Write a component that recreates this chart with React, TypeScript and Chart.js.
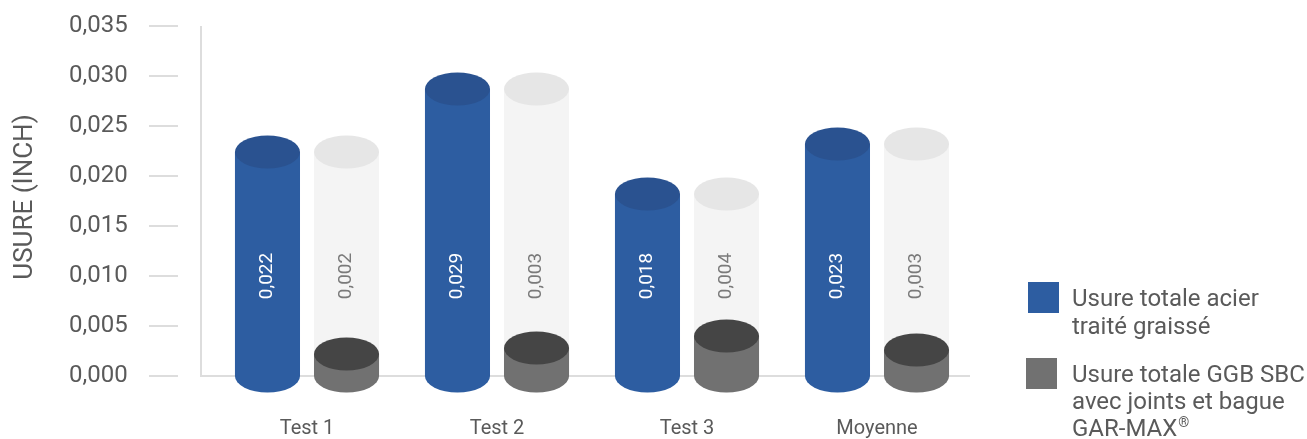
import React, { useEffect, useRef } from 'react';
import { Chart, registerables } from 'chart.js';

Chart.register(...registerables);

const categories = ['Test 1', 'Test 2', 'Test 3', 'Moyenne'];
const acierValues = [0.0224, 0.0287, 0.0182, 0.0232];
const ggbValues = [0.0022, 0.0028, 0.004, 0.0026];
const yMin = 0;
const yMax = 0.035;
const yStep = 0.005;
const labelAnchorValue = 0.01;
const yTitle = 'USURE (INCH)';
const legendAcier = ['Usure totale acier', 'traité graissé'];
const legendGgb = ['Usure totale GGB SBC', 'avec joints et bague', 'GAR-MAX'];
const legendSup = '®';

const FONT = 'Roboto, "Noto Sans", sans-serif';
const TEXT = '#5a5a5a';
const BLUE = '#2d5da1';
const BLUE_TOP = '#2a5290';
const GRAY = '#717171';
const GRAY_TOP = '#454545';
const GHOST = '#f4f4f4';
const GHOST_TOP = '#e6e6e6';
const LINE = '#dddddd';

const fmt = (v: number) => v.toFixed(3).replace('.', ',');

function cylinder(ctx: CanvasRenderingContext2D, x: number, top: number, base: number, rx: number, ry: number, body: string, cap: string) {
  ctx.beginPath();
  ctx.moveTo(x + rx, top);
  ctx.lineTo(x + rx, base);
  ctx.ellipse(x, base, rx, ry, 0, 0, Math.PI, false);
  ctx.lineTo(x - rx, top);
  ctx.closePath();
  ctx.fillStyle = body;
  ctx.fill();
  ctx.beginPath();
  ctx.ellipse(x, top, rx, ry, 0, 0, Math.PI * 2);
  ctx.fillStyle = cap;
  ctx.fill();
}

const cylinderPlugin = {
  id: 'cylinders',
  beforeDatasetsDraw(chart: any) {
    const { ctx, chartArea, scales } = chart;
    const y = scales.y;
    ctx.save();
    ctx.strokeStyle = LINE;
    ctx.lineWidth = 2;
    const fx = chartArea.left - 11;
    ctx.beginPath();
    ctx.moveTo(fx, chartArea.top);
    ctx.lineTo(fx, chartArea.bottom);
    ctx.lineTo(chartArea.right - 2, chartArea.bottom);
    ctx.stroke();
    y.ticks.forEach((t: any) => {
      const py = y.getPixelForValue(t.value);
      ctx.beginPath();
      ctx.moveTo(chartArea.left - 63, py);
      ctx.lineTo(chartArea.left - 34, py);
      ctx.stroke();
    });
    // y title
    ctx.translate(25, (chartArea.top + chartArea.bottom) / 2 - 4);
    ctx.rotate(-Math.PI / 2);
    ctx.font = `26px ${FONT}`;
    ctx.fillStyle = TEXT;
    ctx.textAlign = 'center';
    ctx.textBaseline = 'middle';
    ctx.fillText(yTitle, 0, 0);
    ctx.restore();
  },
  afterDatasetsDraw(chart: any) {
    const { ctx, scales } = chart;
    const y = scales.y;
    const m0 = chart.getDatasetMeta(0);
    const m1 = chart.getDatasetMeta(1);
    const ry = 16.5;
    ctx.save();
    categories.forEach((_, i) => {
      const b0 = m0.data[i];
      const b1 = m1.data[i];
      const ghostTop = y.getPixelForValue(acierValues[i]);
      cylinder(ctx, b1.x, ghostTop, b1.base, b1.width / 2, ry, GHOST, GHOST_TOP);
      cylinder(ctx, b1.x, b1.y, b1.base, b1.width / 2, ry, GRAY, GRAY_TOP);
      cylinder(ctx, b0.x, b0.y, b0.base, b0.width / 2, ry, BLUE, BLUE_TOP);
      const ly = y.getPixelForValue(labelAnchorValue);
      ctx.font = `19px ${FONT}`;
      ctx.textAlign = 'center';
      ctx.textBaseline = 'middle';
      [
        [b0.x, fmt(acierValues[i]), '#ffffff'],
        [b1.x, fmt(ggbValues[i]), '#7a7a7a'],
      ].forEach(([lx, txt, col]: any) => {
        ctx.save();
        ctx.translate(lx, ly);
        ctx.rotate(-Math.PI / 2);
        ctx.fillStyle = col;
        ctx.fillText(txt, 0, 0);
        ctx.restore();
      });
    });
    ctx.restore();
  },
  afterDraw(chart: any) {
    const { ctx } = chart;
    ctx.save();
    ctx.fillStyle = BLUE;
    ctx.fillRect(1028, 282, 31, 31);
    ctx.fillStyle = GRAY;
    ctx.fillRect(1026, 358, 31, 31);
    ctx.font = `24px ${FONT}`;
    ctx.fillStyle = TEXT;
    ctx.textAlign = 'left';
    ctx.textBaseline = 'alphabetic';
    legendAcier.forEach((t, k) => ctx.fillText(t, 1072, 306 + k * 27.5));
    legendGgb.forEach((t, k) => ctx.fillText(t, 1072, 382 + k * 27));
    const w = ctx.measureText(legendGgb[legendGgb.length - 1]).width;
    ctx.font = `14px ${FONT}`;
    ctx.fillText(legendSup, 1072 + w + 1, 382 + (legendGgb.length - 1) * 27 - 9);
    ctx.restore();
  },
};

export default function App() {
  const ref = useRef<HTMLCanvasElement>(null);
  useEffect(() => {
    if (!ref.current) return;
    const chart = new Chart(ref.current, {
      type: 'bar',
      data: {
        labels: categories,
        datasets: [
          { label: legendAcier.join(' '), data: acierValues, backgroundColor: 'rgba(0,0,0,0)', categoryPercentage: 0.832, barPercentage: 0.823 },
          { label: legendGgb.join(' '), data: ggbValues, backgroundColor: 'rgba(0,0,0,0)', categoryPercentage: 0.832, barPercentage: 0.823 },
        ],
      },
      options: {
        responsive: false,
        animation: false,
        layout: { padding: { left: 69, right: 335, top: 26, bottom: 0 } },
        plugins: { legend: { display: false }, tooltip: { enabled: false } },
        scales: {
          x: {
            grid: { display: false, drawTicks: false },
            border: { display: false },
            ticks: { font: { family: FONT, size: 20 }, color: TEXT, padding: 41 },
            afterFit: (s: any) => { s.height = 63; },
          },
          y: {
            min: yMin,
            max: yMax,
            grid: { display: false, drawTicks: false },
            border: { display: false },
            ticks: { stepSize: yStep, font: { family: FONT, size: 24 }, color: TEXT, padding: 0, crossAlign: 'far', callback: (v: any) => fmt(Number(v)) },
            afterFit: (s: any) => { s.width = 143; },
          },
        },
      },
      plugins: [cylinderPlugin],
    });
    return () => chart.destroy();
  }, []);
  return (
    <div style={{ position: 'fixed', left: 0, top: 0, width: 1307, height: 439, background: '#ffffff' }}>
      <canvas ref={ref} width={1307} height={439} style={{ display: 'block' }} />
    </div>
  );
}
